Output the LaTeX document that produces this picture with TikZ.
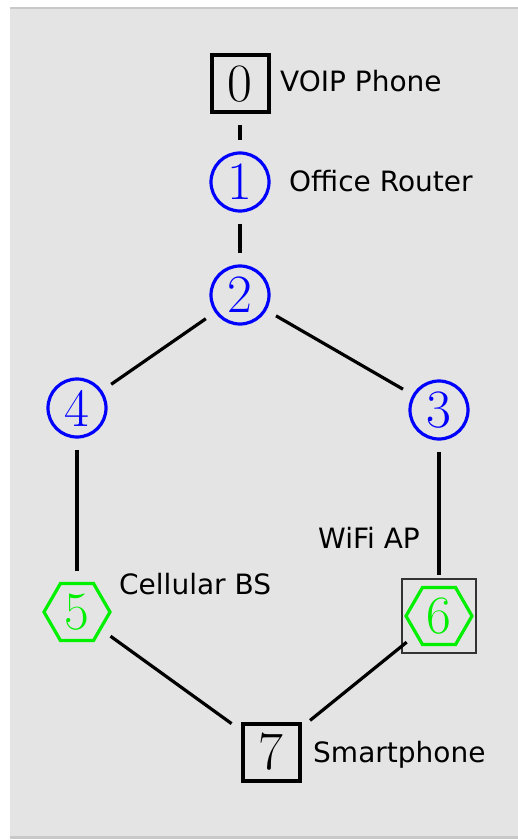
\documentclass[tikz,border=0pt]{standalone}
\usepackage{fontspec}
\setsansfont{DejaVu Sans}
\usepackage{tikz}
\usetikzlibrary{shapes.geometric}

\definecolor{bggray}{HTML}{E4E4E4}
\definecolor{rimgray}{HTML}{C8C8C8}
\definecolor{nodeblue}{HTML}{0000FF}
\definecolor{nodegreen}{HTML}{00F000}

\newcommand{\numfont}{\fontsize{54}{54}\selectfont}
\newcommand{\labfont}{\sffamily\fontsize{28}{28}\selectfont}

\tikzset{
  hostbox/.style={draw=black, line width=4, minimum size=57, inner sep=0, font=\numfont},
  routernode/.style={circle, draw=nodeblue, text=nodeblue, line width=3.2, minimum size=58, inner sep=0, font=\numfont},
  accessnode/.style={regular polygon, regular polygon sides=6, draw=nodegreen, text=nodegreen, line width=3.2, minimum size=66, inner sep=0, font=\numfont},
  selbox/.style={draw=black!80, line width=1.3, minimum size=74, inner sep=0},
  devlabel/.style={anchor=base west, inner sep=0, font=\labfont},
  link/.style={line width=3.2, shorten >=11, shorten <=11},
}

\begin{document}
\begin{tikzpicture}[x=1pt, y=-1pt]
  \useasboundingbox (0,0) rectangle (518,840);
  % Background panel
  \fill[bggray] (10,7) rectangle (518,837);
  \draw[rimgray, line width=2] (10,8) -- (518,8);
  \draw[rimgray, line width=3] (10,837.5) -- (518,837.5);

  % Wired side
  \node[hostbox] (n0) at (240,84) {0};
  \node[routernode] (n1) at (240,182) {1};
  \node[routernode] (n2) at (240,295) {2};
  \node[routernode] (n4) at (77,408) {4};
  \node[routernode] (n3) at (439,410) {3};

  % Access points
  \node[accessnode] (n5) at (77,612) {5};
  \node[accessnode] (n6) at (439,616) {6};
  \node[selbox] (sel6) at (439,616) {};

  % Phone
  \node[hostbox] (n7) at (271,752) {7};

  % Labels
  \node[devlabel] (l0) at (280,92) {VOIP Phone};
  \node[devlabel] (l1) at (289,191) {Office Router};
  \node[devlabel] (l6) at (318,548) {WiFi AP};
  \node[devlabel] (l5) at (119,594) {Cellular BS};
  \node[devlabel] (l7) at (313,762) {Smartphone};

  % Links
  \draw[link] (n0) -- (n1);
  \draw[link] (n1) -- (n2);
  \draw[link] (n2) -- (n4);
  \draw[link] (n2) -- (n3);
  \draw[link] (n4) -- (n5);
  \draw[link] (n3) -- (n6);
  \draw[link] (n5) -- (n7);
  \draw[link] (n6) -- (n7);
\end{tikzpicture}
\end{document}
